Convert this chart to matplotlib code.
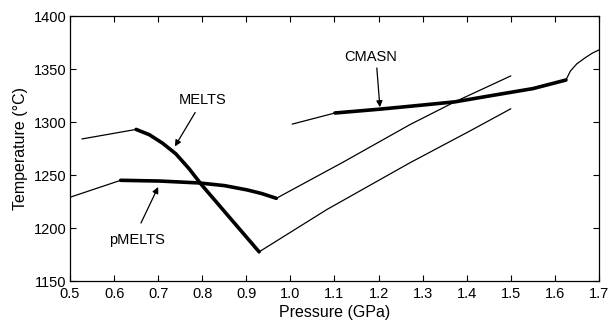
import matplotlib
matplotlib.use("Agg")
import matplotlib.pyplot as plt
import numpy as np

plt.rcParams['font.family'] = ['Liberation Sans', 'DejaVu Sans']

# MELTS
melts_thin1_p = [0.527, 0.65]
melts_thin1_t = [1284, 1293]
melts_thick_p = [0.65, 0.68, 0.71, 0.74, 0.77, 0.80, 0.865, 0.929]
melts_thick_t = [1293, 1288, 1280, 1270, 1256, 1240, 1208.5, 1177.5]
melts_thin2_p = [0.929, 1.083, 1.271, 1.407, 1.5]
melts_thin2_t = [1177.5, 1217.5, 1261.5, 1291.5, 1312.5]

# pMELTS
pmelts_thin1_p = [0.5, 0.615]
pmelts_thin1_t = [1229, 1245]
pmelts_thick_p = [0.615, 0.704, 0.793, 0.85, 0.901, 0.935, 0.968]
pmelts_thick_t = [1245, 1244.3, 1242.5, 1240, 1236, 1232.5, 1228]
pmelts_thin2_p = [0.968, 1.119, 1.271, 1.373, 1.5]
pmelts_thin2_t = [1228, 1262, 1297.5, 1319, 1343.5]

# CMASN
cmasn_thin1_p = [1.004, 1.101]
cmasn_thin1_t = [1298, 1308.5]
cmasn_thick_p = [1.101, 1.2, 1.3, 1.373, 1.45, 1.55, 1.625]
cmasn_thick_t = [1308.5, 1312, 1316, 1319, 1324.5, 1331.5, 1339.6]
cmasn_thin2_p = [1.625, 1.635, 1.65, 1.67, 1.685, 1.7]
cmasn_thin2_t = [1339.6, 1348, 1355, 1361, 1365, 1368]

annotations = [
    ("MELTS", (0.738, 1277), (0.80, 1321), (0.784, 1309)),
    ("pMELTS", (0.70, 1238.7), (0.652, 1188.7), (0.661, 1204.7)),
    ("CMASN", (1.203, 1314), (1.183, 1361), (1.196, 1351)),
]

fig = plt.figure(figsize=(6.12, 3.25), dpi=100)
ax = fig.add_axes([70/612, 1-281/325, 529/612, 265/325])

thin = 0.9
thick = 2.6
for p, t, lw in [
    (melts_thin1_p, melts_thin1_t, thin), (melts_thick_p, melts_thick_t, thick),
    (melts_thin2_p, melts_thin2_t, thin),
    (pmelts_thin1_p, pmelts_thin1_t, thin), (pmelts_thick_p, pmelts_thick_t, thick),
    (pmelts_thin2_p, pmelts_thin2_t, thin),
    (cmasn_thin1_p, cmasn_thin1_t, thin), (cmasn_thick_p, cmasn_thick_t, thick),
    (cmasn_thin2_p, cmasn_thin2_t, thin),
]:
    ax.plot(p, t, color='black', lw=lw, solid_capstyle='round', solid_joinstyle='round')

for label, tip, txt, tail in annotations:
    ax.text(txt[0], txt[1], label, ha='center', va='center', fontsize=10.5)
    ax.annotate('', xy=tip, xytext=tail,
                arrowprops=dict(arrowstyle='-|>', color='black', lw=0.9,
                                mutation_scale=9, shrinkA=0, shrinkB=0))

ax.set_xlim(0.5, 1.7)
ax.set_ylim(1150, 1400)
ax.set_xticks(np.arange(0.5, 1.71, 0.1))
ax.set_xticklabels([f"{v:.1f}" for v in np.arange(0.5, 1.71, 0.1)])
ax.set_yticks(np.arange(1150, 1401, 50))
ax.tick_params(direction='in', top=True, right=True, labelsize=10.5, length=4, width=0.8)
ax.tick_params(axis='x', pad=4.5)
ax.tick_params(axis='y', pad=2.5, labelright=False)
for s in ax.spines.values():
    s.set_linewidth(0.9)
ax.set_xlabel('Pressure (GPa)', fontsize=11.5, labelpad=3)
ax.set_ylabel('Temperature (°C)', fontsize=11.5, labelpad=4)

fig.savefig('out.png', dpi=100)
